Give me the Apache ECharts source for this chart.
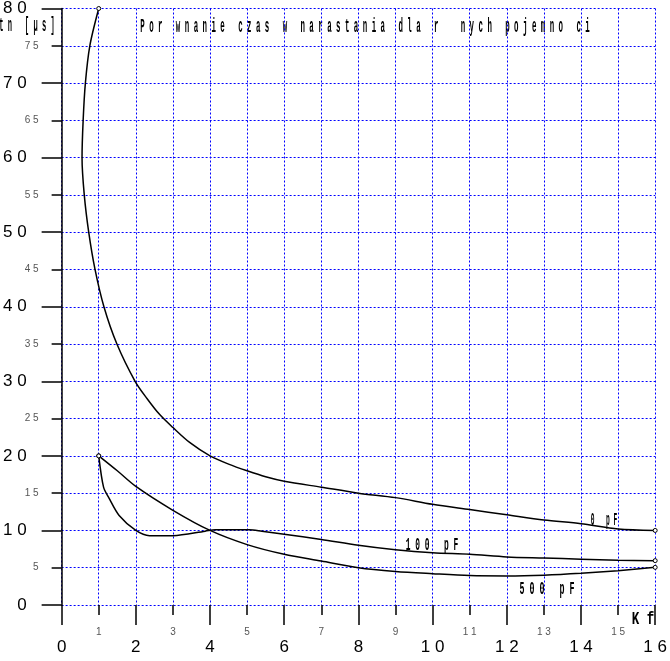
<!DOCTYPE html>
<html><head><meta charset="utf-8">
<script src="https://cdn.jsdelivr.net/npm/echarts@6/dist/echarts.min.js"></script>
<style>html,body{margin:0;padding:0;background:#fff}#c{width:670px;height:661px}</style>
</head><body><div id="c"></div>
<script>
// ---- data ----
const chartTitle = 'Por wnanie czas w narastania dla r  nych pojemno ci';
const yAxisName = 'tn [µs]';
const xAxisName = 'Kf';
const xTickLabels = ['0','1','2','3','4','5','6','7','8','9','10','11','12','13','14','15','16'];
const yTickLabels = ['0','5','10','15','20','25','30','35','40','45','50','55','60','65','70','75','80'];
const seriesNames = ['0 pF', '100 pF', '500 pF'];

const kf0pF = [1, 0.76, 0.64, 0.58, 0.55, 0.61, 0.73, 0.90, 1.14, 1.49, 1.98, 2.3, 2.65, 3, 3.45, 4, 4.5, 5, 5.5, 6, 7, 8, 9, 10, 11, 12, 13, 14, 15, 16];
const tn0pF = [80, 75, 70, 65, 60, 55, 50, 45, 40, 35, 30, 27.7, 25.5, 23.8, 21.8, 20, 18.9, 18.0, 17.2, 16.6, 15.8, 15.0, 14.4, 13.5, 12.8, 12.1, 11.4, 10.9, 10.2, 10.0];

const kf100pF = [1, 1.13, 1.27, 1.55, 2, 2.37, 3, 3.87, 4.14, 5.06, 5.4, 6, 7, 8, 9, 10, 11, 12, 13, 14, 15, 16];
const tn100pF = [20, 15.8, 14.4, 12.0, 10.0, 9.3, 9.3, 9.9, 10.1, 10.1, 9.9, 9.5, 8.8, 8.0, 7.4, 7.0, 6.8, 6.45, 6.3, 6.15, 6.0, 5.95];

const kf500pF = [1, 1.5, 2, 3, 4, 5, 6, 7, 8, 9, 10, 11, 12, 13, 14, 15, 16];
const tn500pF = [20, 18.0, 15.9, 12.7, 10.0, 8.1, 6.8, 5.9, 5.0, 4.5, 4.2, 3.95, 3.9, 4.0, 4.25, 4.6, 5.05];

// ---- helpers ----
function pairs(xs, ys) {
  return xs.map((x, i) => {
    const item = { value: [x, ys[i]] };
    if (i === 0 || i === xs.length - 1) { item.symbol = 'circle'; item.symbolSize = 4; }
    return item;
  });
}
function spaced(s) { return s.split('').join(' '); }
function monoText(text, cx, cy, pitch, size) {
  const str = spaced(text);
  return {
    type: 'text', x: cx, y: cy, scaleX: pitch / (1.2 * size), silent: true,
    style: { text: str, font: 'bold ' + size + 'px "Liberation Mono", "DejaVu Sans Mono", monospace',
             fill: '#000', align: 'center', verticalAlign: 'middle' }
  };
}
const xIdx = v => xTickLabels[Math.round(v)] || '';
const yIdx = v => yTickLabels[Math.round(v / 5)] || '';
const labelFont = '"Liberation Sans Narrow", "Liberation Sans", Arial, sans-serif';
const gridLine = { show: true, lineStyle: { color: '#0000ff', width: 1, type: [2, 2] } };

const chart = echarts.init(document.getElementById('c'), null, { renderer: 'canvas' });
const lineSeries = (name, xs, ys) => ({
  name, type: 'line', data: pairs(xs, ys), symbol: 'none', showSymbol: true,
  smooth: 0.3,
  xAxisIndex: 0, yAxisIndex: 0, animation: false, clip: false,
  lineStyle: { color: '#000', width: 1.5 },
  itemStyle: { color: '#fff', borderColor: '#000', borderWidth: 1 }
});

chart.setOption({
  animation: false,
  backgroundColor: '#fff',
  grid: { left: 60, right: 4, top: 6, bottom: 56, containLabel: false },
  xAxis: [
    { type: 'value', min: 0, max: 16, interval: 2, position: 'bottom',
      axisLine: { show: false }, splitLine: { show: false },
      axisTick: { show: true, length: 20, lineStyle: { color: '#000', width: 1.5 } },
      axisLabel: { margin: 34, fontSize: 17, fontFamily: labelFont, color: '#000',
                   formatter: v => spaced(xIdx(v)) } },
    { type: 'value', min: 0, max: 16, interval: 1, position: 'bottom',
      axisLine: { show: false }, splitLine: gridLine,
      axisTick: { show: true, length: 10, lineStyle: { color: '#000', width: 1.5 } },
      axisLabel: { margin: 22, fontSize: 10, fontFamily: labelFont, color: '#555',
                   formatter: v => (Math.round(v) % 2 === 1 ? spaced(xIdx(v)) : '') } }
  ],
  yAxis: [
    { type: 'value', min: 0, max: 80, interval: 10, position: 'left',
      axisLine: { show: true, lineStyle: { color: '#000', width: 1.5 } }, splitLine: { show: false },
      axisTick: { show: true, length: 20, lineStyle: { color: '#000', width: 1.5 } },
      axisLabel: { margin: 35, fontSize: 17, fontFamily: labelFont, color: '#000',
                   formatter: v => spaced(yIdx(v)) } },
    { type: 'value', min: 0, max: 80, interval: 5, position: 'left',
      axisLine: { show: false }, splitLine: gridLine,
      axisTick: { show: true, length: 10, lineStyle: { color: '#000', width: 1.5 } },
      axisLabel: { margin: 23, fontSize: 10, fontFamily: labelFont, color: '#555',
                   formatter: v => (Math.round(v) % 10 === 5 ? spaced(yIdx(v)) : '') } }
  ],
  series: [
    lineSeries(seriesNames[0], kf0pF, tn0pF),
    lineSeries(seriesNames[1], kf100pF, tn100pF),
    lineSeries(seriesNames[2], kf500pF, tn500pF)
  ],
  graphic: [
    monoText(chartTitle, 365, 27, 8.9, 21),
    monoText(yAxisName, 27, 26, 8.5, 20),
    monoText(seriesNames[0], 604, 520, 7.5, 19),
    monoText(seriesNames[1], 432, 545, 9.5, 19),
    monoText(seriesNames[2], 547, 589, 10, 19),
    monoText(xAxisName, 643, 619, 15, 19)
  ]
});
</script></body></html>
